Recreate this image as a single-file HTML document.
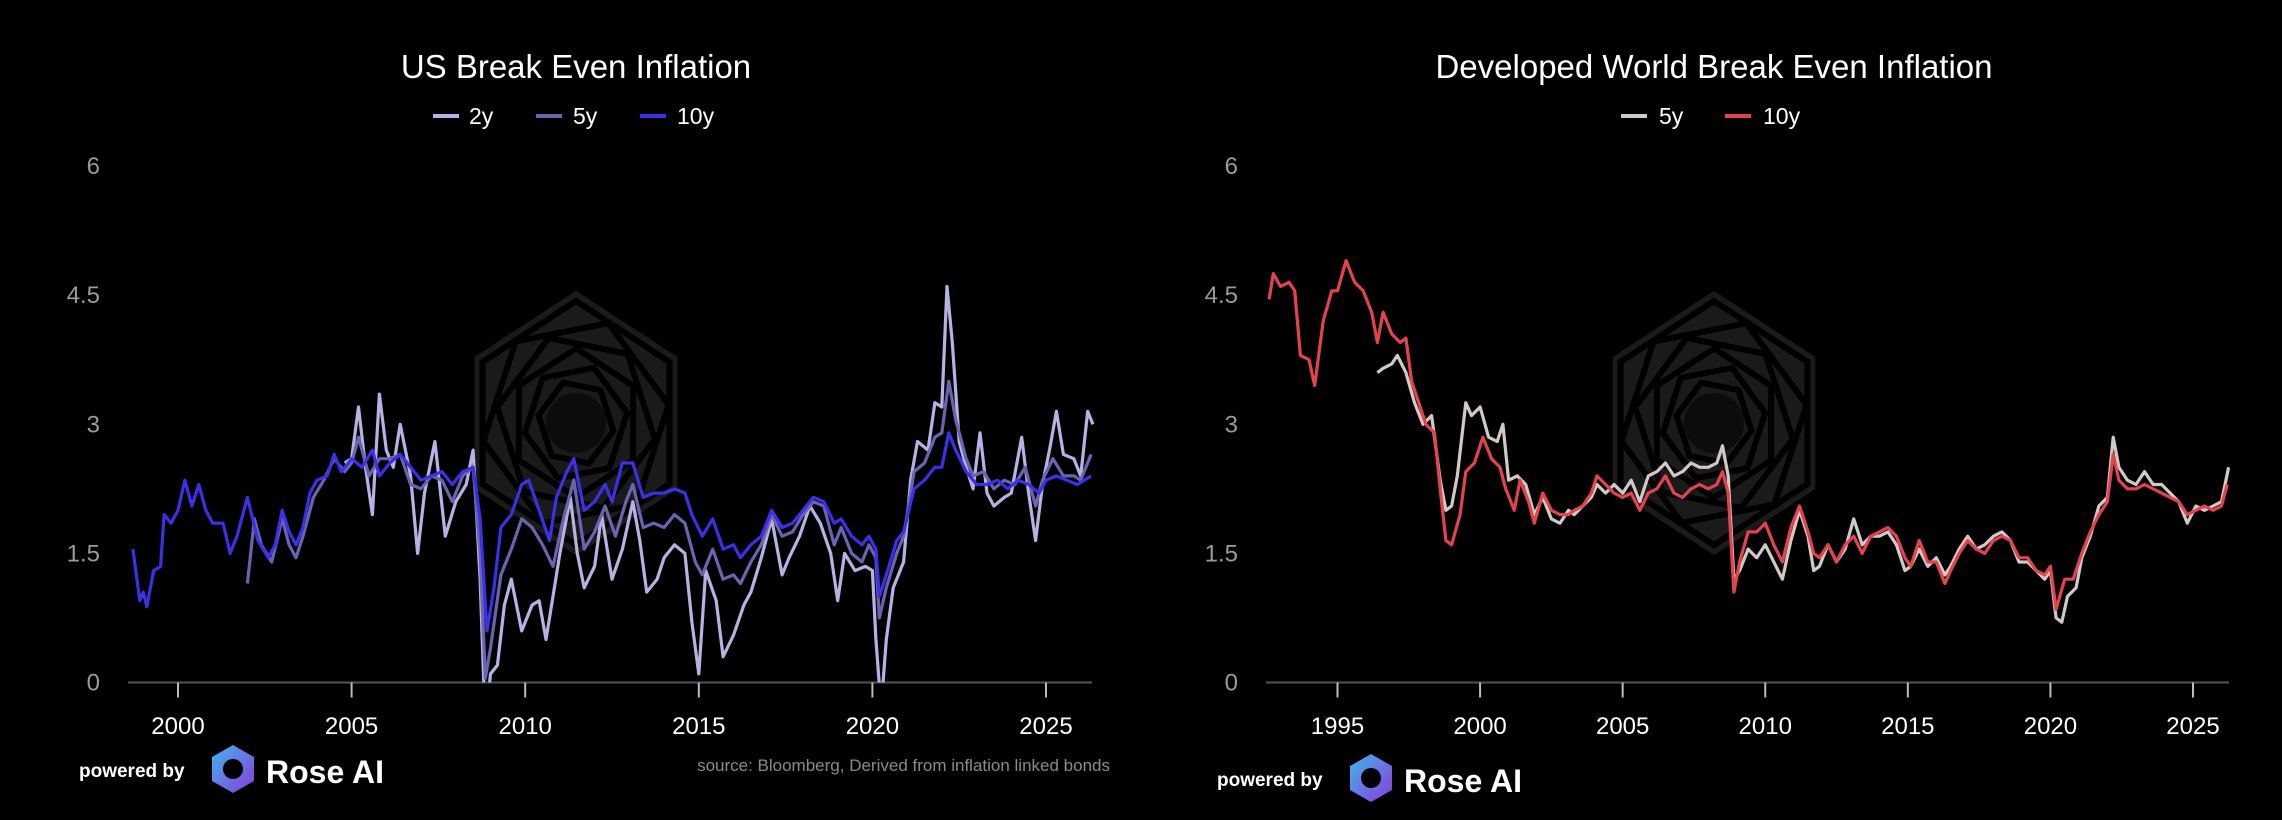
<!DOCTYPE html>
<html><head><meta charset="utf-8"><style>
html,body{margin:0;padding:0;background:#000;}
svg{display:block;font-family:"Liberation Sans",sans-serif;}
</style></head><body>
<svg id="svg" width="2282" height="820" viewBox="0 0 2282 820">
<defs>
<linearGradient id="lg" x1="0" y1="0" x2="1" y2="1"><stop offset="0" stop-color="#3fb6f0"/><stop offset="1" stop-color="#8a3bd8"/></linearGradient>
<clipPath id="clipL"><rect x="128" y="100" width="970" height="582.5"/></clipPath>
<clipPath id="clipR"><rect x="1262" y="100" width="970" height="582.5"/></clipPath>
</defs>
<g id="wmL"></g>
<g id="wmR"></g>
<text x="576" y="78" fill="#fff" font-size="33" text-anchor="middle">US Break Even Inflation</text>
<text x="1714" y="78" fill="#fff" font-size="33" text-anchor="middle">Developed World Break Even Inflation</text>
<g font-size="23" fill="#fff">
<g><line x1="433" y1="116" x2="459" y2="116" stroke="#b6b2e2" stroke-width="4"/><text x="469" y="124">2y</text></g>
<g><line x1="536" y1="116" x2="562" y2="116" stroke="#6a63b0" stroke-width="4"/><text x="573" y="124">5y</text></g>
<g><line x1="640" y1="116" x2="666" y2="116" stroke="#3b30e6" stroke-width="4"/><text x="677" y="124">10y</text></g>
</g>
<g font-size="23" fill="#fff">
<g><line x1="1621" y1="116" x2="1647" y2="116" stroke="#d2c8c8" stroke-width="4"/><text x="1659" y="124">5y</text></g>
<g><line x1="1725" y1="116" x2="1751" y2="116" stroke="#e2434f" stroke-width="4"/><text x="1763" y="124">10y</text></g>
</g>
<g id="plotL"></g><g id="plotR"></g>
<g>
<text x="79" y="777" fill="#fff" font-size="19" font-weight="bold">powered by</text>
<polygon points="233,745 254,757 254,781 233,793 212,781 212,757" fill="url(#lg)"/>
<circle cx="233" cy="769" r="10" fill="#000"/>
<text x="266" y="783" fill="#fff" font-size="32" font-weight="bold">Rose AI</text>
</g>
<text x="1110" y="771" fill="#8a8a8a" font-size="17" text-anchor="end">source: Bloomberg, Derived from inflation linked bonds</text>
<g>
<text x="1217" y="786" fill="#fff" font-size="19" font-weight="bold">powered by</text>
<polygon points="1371,754 1392,766 1392,790 1371,802 1350,790 1350,766" fill="url(#lg)"/>
<circle cx="1371" cy="778" r="10" fill="#000"/>
<text x="1404" y="792" fill="#fff" font-size="32" font-weight="bold">Rose AI</text>
</g>
</svg>
<script>
const yTicks=[0,1.5,3,4.5,6];
const yTickLabels=["0","1.5","3","4.5","6"];
const usYearTicks=[2000,2005,2010,2015,2020,2025];
const dwYearTicks=[1995,2000,2005,2010,2015,2020,2025];

const us10Dates=[1998.7,1998.9,1999.0,1999.1,1999.3,1999.5,1999.6,1999.8,2000.0,2000.2,2000.4,2000.6,2000.8,2001.0,2001.3,2001.5,2001.7,2002.0,2002.3,2002.6,2002.8,2003.0,2003.2,2003.4,2003.6,2003.8,2004.0,2004.3,2004.5,2004.7,2005.0,2005.3,2005.6,2005.8,2006.1,2006.4,2006.7,2007.0,2007.3,2007.6,2007.9,2008.2,2008.5,2008.7,2008.9,2009.1,2009.3,2009.6,2009.9,2010.1,2010.4,2010.7,2010.9,2011.2,2011.4,2011.7,2012.0,2012.3,2012.5,2012.8,2013.1,2013.4,2013.7,2014.0,2014.3,2014.6,2014.8,2015.1,2015.4,2015.7,2016.0,2016.2,2016.5,2016.8,2017.1,2017.4,2017.7,2018.0,2018.3,2018.6,2018.9,2019.1,2019.4,2019.7,2019.9,2020.1,2020.2,2020.4,2020.7,2020.9,2021.2,2021.5,2021.8,2022.0,2022.2,2022.4,2022.7,2023.0,2023.3,2023.6,2023.9,2024.2,2024.5,2024.8,2025.0,2025.3,2025.6,2025.9,2026.1,2026.3];
const us10Values=[1.55,0.95,1.05,0.88,1.3,1.35,1.95,1.85,2.0,2.35,2.05,2.3,2.0,1.85,1.85,1.5,1.7,2.15,1.65,1.45,1.6,2.0,1.75,1.6,1.8,2.2,2.35,2.4,2.65,2.45,2.6,2.5,2.7,2.4,2.55,2.65,2.5,2.35,2.4,2.45,2.3,2.45,2.5,1.9,0.6,1.1,1.8,1.95,2.3,2.35,2.0,1.65,2.15,2.45,2.6,2.0,2.1,2.3,2.1,2.55,2.55,2.15,2.2,2.2,2.25,2.2,1.95,1.7,1.9,1.55,1.6,1.45,1.6,1.7,2.0,1.8,1.85,2.0,2.15,2.1,1.85,1.9,1.7,1.6,1.7,1.55,1.0,1.25,1.65,1.75,2.25,2.35,2.5,2.5,2.9,2.7,2.45,2.3,2.3,2.35,2.25,2.35,2.3,2.2,2.35,2.4,2.35,2.3,2.35,2.4];

const us5Dates=[2002.0,2002.2,2002.4,2002.7,2003.0,2003.2,2003.4,2003.6,2003.9,2004.2,2004.5,2004.8,2005.0,2005.2,2005.5,2005.8,2006.1,2006.4,2006.7,2007.0,2007.3,2007.6,2007.9,2008.2,2008.5,2008.7,2008.85,2009.0,2009.3,2009.6,2009.9,2010.2,2010.5,2010.8,2011.1,2011.4,2011.7,2012.0,2012.3,2012.6,2012.9,2013.1,2013.4,2013.7,2014.0,2014.3,2014.6,2014.9,2015.1,2015.4,2015.7,2016.0,2016.2,2016.5,2016.8,2017.1,2017.4,2017.7,2018.0,2018.3,2018.6,2018.9,2019.1,2019.4,2019.7,2019.9,2020.1,2020.2,2020.4,2020.7,2020.9,2021.2,2021.5,2021.8,2022.0,2022.2,2022.4,2022.7,2022.9,2023.2,2023.5,2023.8,2024.1,2024.4,2024.7,2024.9,2025.2,2025.5,2025.8,2026.0,2026.3];
const us5Values=[1.15,1.9,1.6,1.4,1.9,1.6,1.45,1.7,2.15,2.35,2.6,2.45,2.55,2.85,2.4,2.6,2.6,2.65,2.3,2.25,2.4,2.35,2.1,2.4,2.5,1.5,0.05,0.4,1.25,1.55,1.9,1.8,1.6,1.35,1.9,2.35,1.55,1.75,2.05,1.7,2.1,2.3,1.8,1.85,1.8,1.95,1.85,1.4,1.25,1.55,1.2,1.25,1.15,1.4,1.6,1.95,1.7,1.75,1.95,2.1,2.05,1.6,1.8,1.5,1.4,1.6,1.45,0.75,1.1,1.5,1.7,2.45,2.55,2.85,2.9,3.5,3.05,2.6,2.4,2.45,2.25,2.35,2.3,2.5,2.05,2.35,2.6,2.4,2.4,2.35,2.65];

const us2Dates=[2004.8,2005.0,2005.2,2005.4,2005.6,2005.8,2006.0,2006.2,2006.4,2006.7,2006.9,2007.1,2007.4,2007.7,2008.0,2008.3,2008.5,2008.7,2008.85,2009.0,2009.2,2009.4,2009.6,2009.9,2010.2,2010.4,2010.6,2010.8,2011.0,2011.3,2011.5,2011.7,2012.0,2012.2,2012.5,2012.8,2013.1,2013.3,2013.5,2013.8,2014.0,2014.3,2014.6,2014.8,2015.0,2015.2,2015.5,2015.7,2016.0,2016.3,2016.5,2016.8,2017.1,2017.4,2017.6,2017.9,2018.2,2018.5,2018.8,2019.0,2019.2,2019.5,2019.8,2020.0,2020.1,2020.25,2020.4,2020.6,2020.9,2021.1,2021.3,2021.6,2021.8,2022.0,2022.15,2022.3,2022.5,2022.7,2022.9,2023.1,2023.3,2023.5,2023.8,2024.0,2024.3,2024.5,2024.7,2024.9,2025.1,2025.3,2025.5,2025.8,2026.0,2026.2,2026.35];
const us2Values=[2.55,2.6,3.2,2.5,1.95,3.35,2.7,2.5,3.0,2.4,1.5,2.2,2.8,1.7,2.1,2.3,2.7,1.2,-0.5,0.1,0.2,0.9,1.2,0.6,0.9,0.95,0.5,1.0,1.5,2.15,1.5,1.1,1.35,1.95,1.2,1.55,2.1,1.65,1.05,1.2,1.45,1.6,1.5,0.7,0.1,1.3,0.95,0.3,0.55,0.9,1.05,1.45,1.9,1.25,1.45,1.7,2.05,1.85,1.5,0.95,1.5,1.3,1.35,1.3,0.5,-0.3,0.5,1.1,1.4,2.35,2.8,2.7,3.25,3.2,4.6,3.95,2.8,2.5,2.25,2.9,2.2,2.05,2.15,2.2,2.85,2.2,1.65,2.3,2.7,3.15,2.65,2.6,2.4,3.15,3.0];

const dw10Dates=[1992.6,1992.75,1993.0,1993.3,1993.5,1993.7,1994.0,1994.2,1994.5,1994.8,1995.0,1995.3,1995.6,1995.9,1996.2,1996.4,1996.6,1996.9,1997.2,1997.4,1997.6,1997.8,1998.1,1998.4,1998.6,1998.8,1999.0,1999.3,1999.5,1999.8,2000.1,2000.4,2000.7,2000.9,2001.2,2001.4,2001.7,2001.9,2002.2,2002.5,2002.8,2003.1,2003.3,2003.6,2003.9,2004.1,2004.4,2004.7,2005.0,2005.3,2005.6,2005.9,2006.2,2006.5,2006.8,2007.1,2007.4,2007.7,2008.0,2008.3,2008.5,2008.7,2008.9,2009.1,2009.4,2009.7,2010.0,2010.3,2010.6,2010.9,2011.2,2011.5,2011.7,2011.9,2012.2,2012.5,2012.8,2013.1,2013.4,2013.7,2014.0,2014.3,2014.6,2014.9,2015.1,2015.4,2015.7,2016.0,2016.3,2016.5,2016.8,2017.1,2017.4,2017.7,2018.0,2018.3,2018.6,2018.9,2019.2,2019.5,2019.8,2020.0,2020.2,2020.5,2020.8,2021.1,2021.4,2021.7,2022.0,2022.2,2022.4,2022.7,2023.0,2023.3,2023.6,2023.9,2024.2,2024.5,2024.8,2025.1,2025.4,2025.7,2026.0,2026.2];
const dw10Values=[4.45,4.75,4.6,4.65,4.55,3.8,3.75,3.45,4.2,4.55,4.55,4.9,4.65,4.55,4.3,3.95,4.3,4.05,3.95,4.0,3.5,3.3,3.0,2.9,2.25,1.65,1.6,1.95,2.45,2.55,2.85,2.6,2.5,2.25,2.0,2.35,2.1,1.85,2.2,2.0,1.95,1.95,2.0,2.05,2.2,2.4,2.3,2.2,2.15,2.2,2.0,2.2,2.25,2.4,2.2,2.15,2.25,2.3,2.25,2.3,2.45,2.2,1.05,1.4,1.75,1.75,1.85,1.6,1.4,1.8,2.05,1.75,1.5,1.45,1.6,1.4,1.6,1.7,1.5,1.7,1.75,1.8,1.7,1.45,1.35,1.65,1.4,1.4,1.15,1.3,1.5,1.65,1.55,1.5,1.65,1.7,1.65,1.45,1.45,1.3,1.25,1.35,0.85,1.2,1.2,1.5,1.75,1.95,2.1,2.65,2.35,2.25,2.25,2.3,2.25,2.2,2.15,2.1,1.95,2.0,2.05,2.0,2.05,2.3];

const dw5Dates=[1996.4,1996.6,1996.9,1997.1,1997.4,1997.7,1998.0,1998.3,1998.6,1998.8,1999.0,1999.2,1999.5,1999.7,2000.0,2000.3,2000.6,2000.8,2001.0,2001.3,2001.6,2001.9,2002.2,2002.5,2002.8,2003.1,2003.3,2003.6,2003.9,2004.1,2004.4,2004.7,2005.0,2005.3,2005.6,2005.9,2006.2,2006.5,2006.8,2007.1,2007.4,2007.7,2008.0,2008.3,2008.5,2008.7,2008.9,2009.1,2009.4,2009.7,2010.0,2010.3,2010.6,2010.9,2011.2,2011.5,2011.7,2011.9,2012.2,2012.5,2012.8,2013.1,2013.4,2013.7,2014.0,2014.3,2014.6,2014.9,2015.1,2015.4,2015.7,2016.0,2016.3,2016.5,2016.8,2017.1,2017.4,2017.7,2018.0,2018.3,2018.6,2018.9,2019.2,2019.5,2019.8,2020.0,2020.2,2020.4,2020.6,2020.9,2021.1,2021.4,2021.7,2022.0,2022.2,2022.4,2022.7,2023.0,2023.3,2023.6,2023.9,2024.2,2024.5,2024.8,2025.1,2025.4,2025.7,2026.0,2026.25];
const dw5Values=[3.6,3.65,3.7,3.8,3.6,3.25,3.0,3.1,2.35,2.0,2.05,2.4,3.25,3.1,3.2,2.85,2.8,3.0,2.35,2.4,2.3,1.95,2.15,1.9,1.85,2.0,1.95,2.05,2.15,2.3,2.2,2.3,2.2,2.35,2.1,2.4,2.45,2.55,2.4,2.45,2.55,2.5,2.5,2.55,2.75,2.4,1.2,1.3,1.55,1.45,1.6,1.4,1.2,1.65,2.0,1.7,1.3,1.35,1.6,1.4,1.55,1.9,1.6,1.7,1.7,1.75,1.6,1.3,1.35,1.55,1.35,1.45,1.25,1.35,1.55,1.7,1.55,1.6,1.7,1.75,1.65,1.4,1.4,1.3,1.2,1.3,0.75,0.7,1.0,1.1,1.45,1.7,2.05,2.15,2.85,2.5,2.35,2.3,2.45,2.3,2.3,2.2,2.1,1.85,2.05,2.0,2.05,2.1,2.5];

const NS='http://www.w3.org/2000/svg';
function mk(tag,attrs,parent){const e=document.createElementNS(NS,tag);for(const k in attrs)e.setAttribute(k,attrs[k]);parent.appendChild(e);return e;}

function watermark(g,cx,cy){
  const pts=(r,rot)=>{let s=[];for(let i=0;i<6;i++){const a=rot+Math.PI/3*i-Math.PI/2;s.push((cx+r*Math.cos(a)).toFixed(1)+','+(cy+r*1.13*Math.sin(a)).toFixed(1));}return s.join(' ');};
  mk('polygon',{points:pts(117,0),fill:'#1a1a1a'},g);
  for(let k=0;k<6;k++){
    mk('polygon',{points:pts(108-k*14,k*0.35),fill:'none',stroke:'#000','stroke-width':6},g);
  }
  mk('circle',{cx:cx,cy:cy,r:30,fill:'#0c0c0c'},g);
}
watermark(document.getElementById('wmL'),576,423);
watermark(document.getElementById('wmR'),1714,423);

function chart(gid,clip,axisStart,axisEnd,x0,x1,yr0,yr1,xTickYears,list,prefix){
  const g=document.getElementById(gid);
  const yBase=682.5, yTop=166;
  const X=v=>x0+(v-yr0)/(yr1-yr0)*(x1-x0);
  const Y=v=>yBase-(v/6)*(yBase-yTop);
  yTicks.forEach((t,i)=>{
    const tx=mk('text',{x:axisStart-28,y:Y(t)+8,fill:'#9a9a9a','font-size':24,'text-anchor':'end'},g);
    
    
    tx.textContent=yTickLabels[i];
  });
  const axis=mk('line',{x1:axisStart,y1:yBase,x2:axisEnd,y2:yBase,stroke:'#555','stroke-width':2},g);
  
  
  xTickYears.forEach(yv=>{
    const tk=mk('line',{x1:X(yv),y1:yBase,x2:X(yv),y2:yBase+15,stroke:'#bbb','stroke-width':2},g);
    
    
    const tl=mk('text',{x:X(yv),y:734,fill:'#fff','font-size':24,'text-anchor':'middle'},g);
    
    
    tl.textContent=yv;
  });
  const pg=mk('g',{'clip-path':'url(#'+clip+')'},g);
  list.forEach(s=>{
    const d=s.dates.map((t,i)=>(i?'L':'M')+X(t).toFixed(1)+','+Y(s.values[i]).toFixed(1)).join(' ');
    const p=mk('path',{d:d,fill:'none',stroke:s.color,'stroke-width':3.2,'stroke-linejoin':'round'},pg);
    
    
  });
}
chart('plotL','clipL',128,1092,178,1046,2000,2025,usYearTicks,[
  {name:'series-us-2y',color:'#b6b2e2',dates:us2Dates,values:us2Values},
  {name:'series-us-5y',color:'#6a63b0',dates:us5Dates,values:us5Values},
  {name:'series-us-10y',color:'#3b30e6',dates:us10Dates,values:us10Values}],'us');
chart('plotR','clipR',1266,2229,1337.5,2193,1995,2025,dwYearTicks,[
  {name:'series-dw-5y',color:'#d2c8c8',dates:dw5Dates,values:dw5Values},
  {name:'series-dw-10y',color:'#e2434f',dates:dw10Dates,values:dw10Values}],'dw');
</script>
</body></html>
